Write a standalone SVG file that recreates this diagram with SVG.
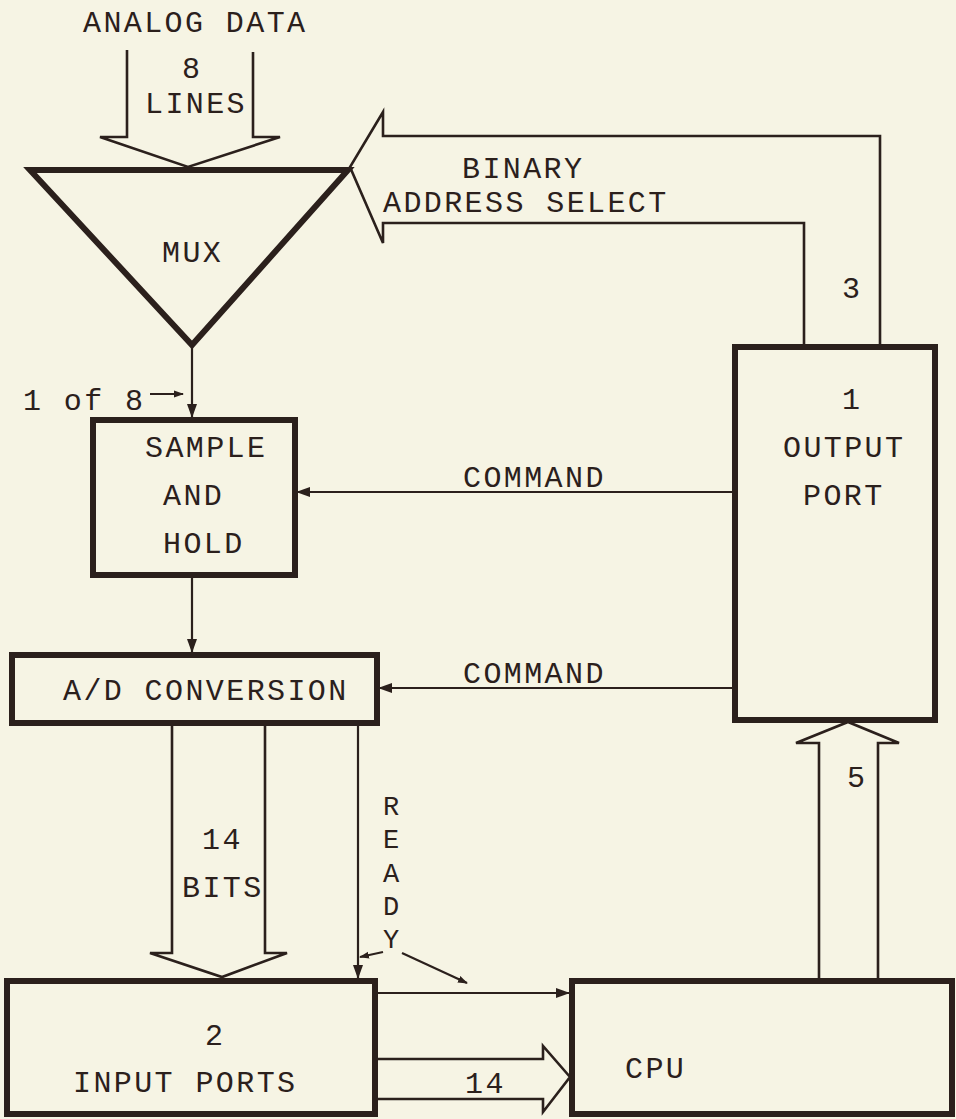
<svg xmlns="http://www.w3.org/2000/svg" width="956" height="1119" viewBox="0 0 956 1119">
<defs>
<style>
.bg{fill:#f6f4e4}
.box{fill:none;stroke:#2b201c;stroke-width:6;stroke-linejoin:miter}
.ln{fill:none;stroke:#2b201c;stroke-width:2.2}
.wide{fill:none;stroke:#2b201c;stroke-width:2.6;stroke-linejoin:miter}
text{font-family:"Liberation Mono","Courier New",monospace;font-size:30px;letter-spacing:2.4px;fill:#2b201c}
.v{font-size:27px;letter-spacing:0}
</style>
<marker id="ah" markerWidth="14" markerHeight="12" refX="13" refY="6" orient="auto" markerUnits="userSpaceOnUse">
<path d="M0,1 L14,6 L0,11 z" fill="#2b201c"/>
</marker>
<marker id="ahs" markerWidth="10" markerHeight="8" refX="9" refY="4" orient="auto" markerUnits="userSpaceOnUse">
<path d="M0,0.5 L10,4 L0,7.5 z" fill="#2b201c"/>
</marker>
</defs>
<rect class="bg" x="0" y="0" width="956" height="1119"/>

<g id="connectors">
<path id="analog-in" class="wide" d="M127,50 L127,137 L100,137 L188,167 L280,137 L253,137 L253,52"/>
<path id="addr-select" class="wide" d="M804,347 L804,223 L383,223 L383,243 L350,167 L383,112 L383,136 L880,136 L880,347"/>
<line id="mux-sh" class="ln" x1="192" y1="345" x2="192" y2="417" marker-end="url(#ah)"/>
<line id="oneof8" class="ln" x1="150" y1="394" x2="183" y2="394" marker-end="url(#ahs)"/>
<line id="cmd1" class="ln" x1="735" y1="492" x2="297" y2="492" marker-end="url(#ah)"/>
<line id="sh-ad" class="ln" x1="192" y1="575" x2="192" y2="652" marker-end="url(#ah)"/>
<line id="cmd2" class="ln" x1="735" y1="688" x2="379" y2="688" marker-end="url(#ah)"/>
<path id="bits14" class="wide" d="M172,723 L172,953 L150,953 L222,977 L287,953 L265,953 L265,723"/>
<line id="ready" class="ln" x1="358" y1="723" x2="358" y2="978" marker-end="url(#ah)"/>
<line id="ready-lbl1" class="ln" x1="383" y1="952" x2="360" y2="957" marker-end="url(#ahs)"/>
<line id="ready-lbl2" class="ln" x1="402" y1="953" x2="467" y2="983" marker-end="url(#ahs)"/>
<line id="ready-cpu" class="ln" x1="375" y1="993" x2="569" y2="993" marker-end="url(#ah)"/>
<path id="data14" class="wide" d="M375,1059 L543,1059 L543,1046 L570,1077 L543,1112 L543,1099 L375,1099"/>
<path id="ctrl5" class="wide" d="M819,981 L819,743 L796,743 L848,722 L899,743 L878,743 L878,981"/>
</g>

<g id="mux">
<path class="box" d="M30,170 L348,170 L192,345 Z"/>
<text x="162" y="262">MUX</text>
</g>

<g id="sample-hold">
<rect class="box" x="93" y="420" width="202" height="155"/>
<text x="145" y="457">SAMPLE</text>
<text x="163" y="505">AND</text>
<text x="163" y="553">HOLD</text>
</g>

<g id="ad-conversion">
<rect class="box" x="12" y="655" width="365" height="68"/>
<text x="63" y="700">A/D CONVERSION</text>
</g>

<g id="output-port">
<rect class="box" x="735" y="347" width="200" height="373"/>
<text x="851" y="409" text-anchor="middle" style="letter-spacing:0">1</text>
<text x="783" y="457">OUTPUT</text>
<text x="803" y="505">PORT</text>
</g>

<g id="input-ports">
<rect class="box" x="7" y="981" width="368" height="133"/>
<text x="214" y="1045" text-anchor="middle" style="letter-spacing:0">2</text>
<text x="73" y="1092">INPUT PORTS</text>
</g>

<g id="cpu">
<rect class="box" x="572" y="981" width="380" height="133"/>
<text x="625" y="1078">CPU</text>
</g>

<g id="labels">
<text x="83" y="32">ANALOG DATA</text>
<text x="191" y="78" text-anchor="middle" style="letter-spacing:0">8</text>
<text x="145" y="113">LINES</text>
<text x="462" y="178">BINARY</text>
<text x="383" y="212">ADDRESS SELECT</text>
<text x="851" y="298" text-anchor="middle" style="letter-spacing:0">3</text>
<text x="23" y="410">1 of 8</text>
<text x="463" y="487">COMMAND</text>
<text x="463" y="683">COMMAND</text>
<text x="202" y="849">14</text>
<text x="182" y="897">BITS</text>
<text class="v" x="391" y="815" text-anchor="middle">R</text>
<text class="v" x="391" y="848" text-anchor="middle">E</text>
<text class="v" x="391" y="882" text-anchor="middle">A</text>
<text class="v" x="391" y="915" text-anchor="middle">D</text>
<text class="v" x="391" y="948" text-anchor="middle">Y</text>
<text x="465" y="1093">14</text>
<text x="856" y="787" text-anchor="middle" style="letter-spacing:0">5</text>
</g>
</svg>
